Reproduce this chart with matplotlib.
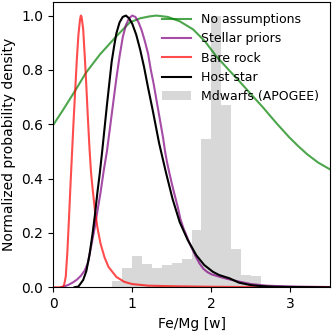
import matplotlib
matplotlib.use("Agg")
import matplotlib.pyplot as plt

# ---- data ----
# green: no assumptions
x_none = [0.0, 0.126, 0.277, 0.416, 0.592, 0.80, 0.97, 1.10, 1.22, 1.305, 1.45, 1.60,
          1.77, 1.92, 2.06, 2.23, 2.355, 2.50, 2.65, 2.82, 2.985, 3.10, 3.21, 3.35, 3.50]
y_none = [0.597, 0.653, 0.723, 0.79, 0.857, 0.924, 0.975, 0.99, 0.997, 1.0, 0.995, 0.979,
          0.949, 0.905, 0.851, 0.797, 0.758, 0.711, 0.663, 0.605, 0.552, 0.519, 0.490, 0.459,
          0.434]

# purple: stellar priors
x_stellar = [0.10, 0.15, 0.20, 0.25, 0.30, 0.35, 0.40, 0.44, 0.48, 0.52, 0.56, 0.60, 0.64,
             0.68, 0.72, 0.76, 0.80, 0.84, 0.88, 0.92, 0.96, 1.00, 1.04, 1.08, 1.12, 1.165,
             1.20, 1.235, 1.27, 1.30, 1.33, 1.36, 1.39, 1.415, 1.44, 1.47, 1.51, 1.545, 1.58,
             1.61, 1.65, 1.68, 1.72, 1.76, 1.80, 1.85, 1.90, 1.95, 2.00, 2.10, 2.20, 2.35,
             2.50, 2.70, 3.00, 3.50]
y_stellar = [0.0, 0.004, 0.01, 0.018, 0.028, 0.042, 0.062, 0.09, 0.15, 0.21, 0.28, 0.35, 0.43,
             0.50, 0.59, 0.68, 0.77, 0.85, 0.92, 0.965, 0.99, 1.0, 0.995, 0.975, 0.945, 0.90,
             0.86, 0.80, 0.75, 0.70, 0.65, 0.60, 0.55, 0.50, 0.46, 0.42, 0.37, 0.33, 0.29,
             0.25, 0.215, 0.195, 0.165, 0.14, 0.115, 0.088, 0.068, 0.056, 0.048, 0.039, 0.031,
             0.021, 0.012, 0.006, 0.003, 0.001]

# red: bare rock
x_rock = [0.0, 0.12, 0.14, 0.16, 0.18, 0.20, 0.22, 0.24, 0.26, 0.28, 0.30, 0.32, 0.34, 0.35,
          0.36, 0.38, 0.40, 0.42, 0.44, 0.46, 0.48, 0.50, 0.53, 0.56, 0.60, 0.65, 0.70, 0.80,
          0.90, 1.0, 1.2, 1.5, 2.0, 2.5, 3.5]
y_rock = [0.0, 0.0, 0.01, 0.04, 0.13, 0.25, 0.38, 0.50, 0.62, 0.73, 0.84, 0.93, 0.985, 1.0,
          0.995, 0.95, 0.85, 0.74, 0.62, 0.51, 0.42, 0.36, 0.28, 0.22, 0.16, 0.11, 0.075, 0.038,
          0.02, 0.012, 0.006, 0.004, 0.002, 0.001, 0.0]

# black: host star
x_host = [0.27, 0.32, 0.38, 0.42, 0.46, 0.50, 0.53, 0.56, 0.59, 0.62, 0.65, 0.68, 0.71, 0.74,
          0.77, 0.80, 0.84, 0.88, 0.92, 0.96, 1.00, 1.05, 1.10, 1.15, 1.20, 1.26, 1.34, 1.43,
          1.51, 1.60, 1.70, 1.81, 1.91, 2.02, 2.10, 2.23, 2.35, 2.50, 2.61, 2.80, 3.10, 3.50]
y_host = [0.0, 0.003, 0.027, 0.06, 0.12, 0.20, 0.27, 0.35, 0.42, 0.50, 0.585, 0.67, 0.75, 0.83,
          0.885, 0.935, 0.975, 0.995, 1.0, 0.99, 0.97, 0.93, 0.875, 0.81, 0.735, 0.65, 0.53,
          0.418, 0.325, 0.24, 0.175, 0.118, 0.082, 0.057, 0.045, 0.033, 0.017, 0.008, 0.005,
          0.002, 0.001, 0.0]

# grey histogram: M dwarfs (APOGEE)
bin_left = [0.75, 0.875, 1.0, 1.125, 1.25, 1.375, 1.5, 1.625, 1.75, 1.875, 2.0, 2.125,
            2.25, 2.375, 2.5]
bin_height = [0.022, 0.072, 0.116, 0.085, 0.07, 0.081, 0.09, 0.104, 0.21, 0.545, 1.0,
              0.672, 0.141, 0.045, 0.042]
bin_width = 0.125

# ---- plot ----
fig = plt.figure(figsize=(3.32, 3.31), dpi=100)
ax = fig.add_axes([0.16, 0.132, 0.834, 0.862])

bars = ax.bar(bin_left, bin_height, width=bin_width, align='edge', color='gray',
              alpha=0.3, label='Mdwarfs (APOGEE)')
l1, = ax.plot(x_none, y_none, color='green', alpha=0.7, lw=1.5, label='No assumptions')
l2, = ax.plot(x_stellar, y_stellar, color='purple', alpha=0.7, lw=1.5, label='Stellar priors')
l3, = ax.plot(x_rock, y_rock, color='red', alpha=0.7, lw=1.5, label='Bare rock')
l4, = ax.plot(x_host, y_host, color='black', lw=1.5, label='Host star')

ax.set_xlim(0, 3.5)
ax.set_ylim(0, 1.05)
ax.set_xticks([0, 1, 2, 3])
ax.set_xlabel('Fe/Mg [w]')
ax.set_ylabel('Normalized probability density')
ax.legend(handles=[l1, l2, l3, l4, bars], loc='upper right', frameon=False, fontsize=9,
          handlelength=2.3)

fig.savefig('out.png', dpi=100)
